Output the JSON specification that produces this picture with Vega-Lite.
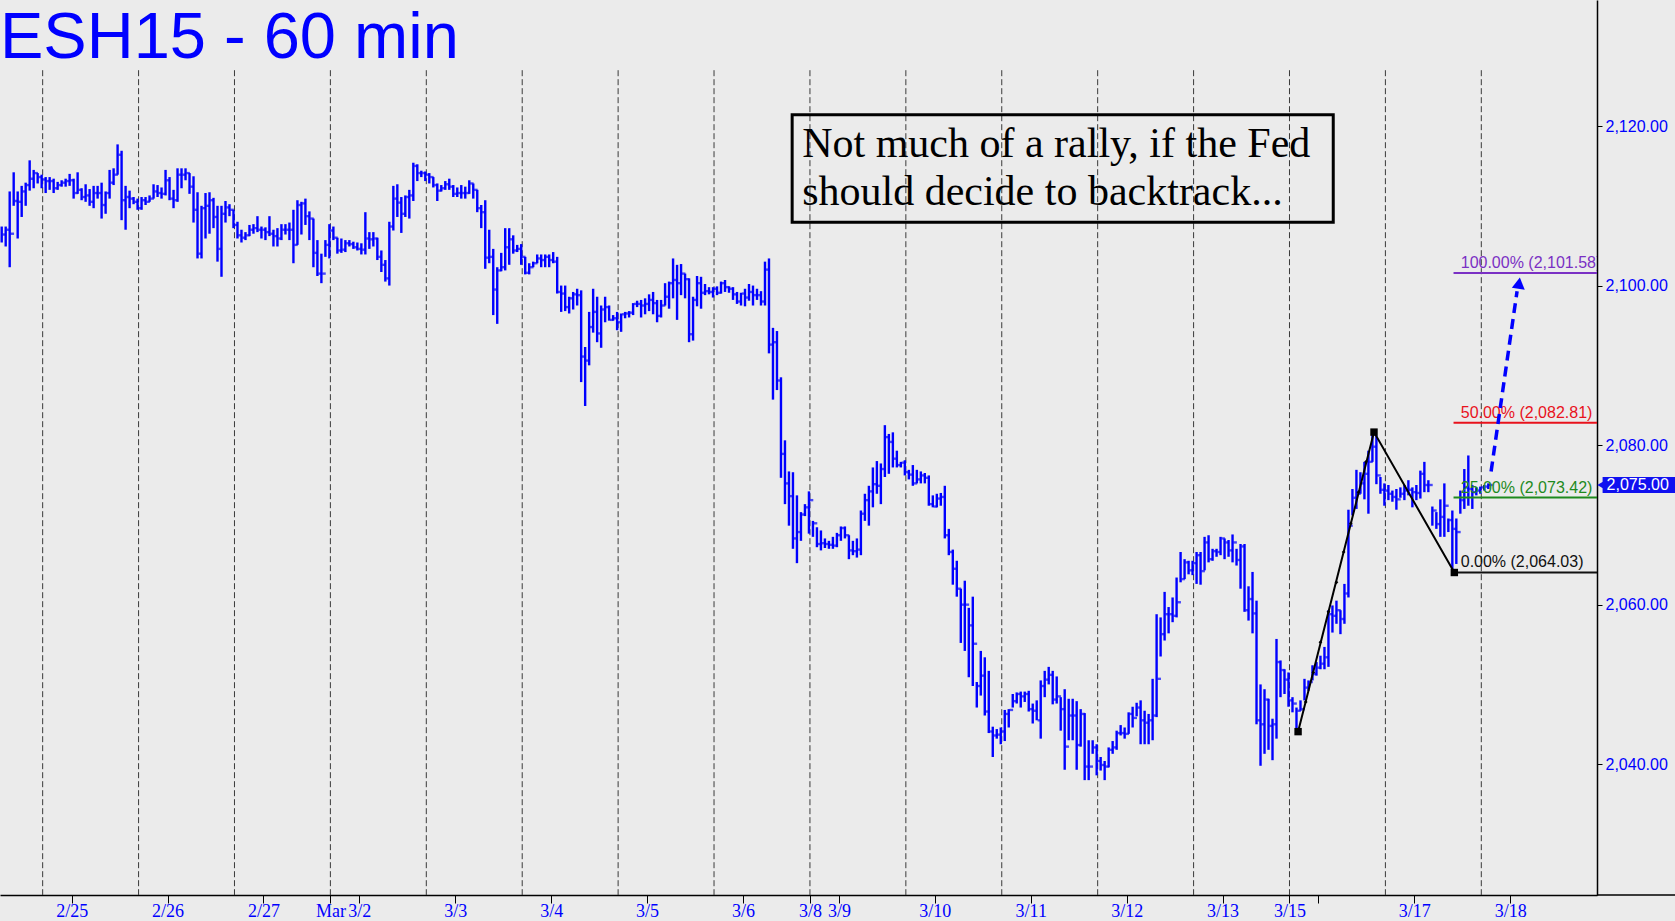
{
  "$schema": "https://vega.github.io/schema/vega-lite/v6.json",
  "width": 1597,
  "height": 895,
  "autosize": {"type": "none"},
  "padding": {"left": 0, "top": 0, "right": 78, "bottom": 26},
  "background": "#EBEBEB",
  "config": {"view": {"stroke": null}},
  "datasets": {
    "sessions": [{"s":10.25},{"s":34.25},{"s":58.25},{"s":82.25},{"s":106.25},{"s":130.25},{"s":154.25},{"s":178.25},{"s":202.25},{"s":226.25},{"s":250.25},{"s":274.25},{"s":298.25},{"s":322.25},{"s":346.25},{"s":370.25}],
    "bars": [
{"i":0,"h":2107.4,"l":2105.4,"c":2106.4},{"i":1,"h":2107.4,"l":2104.9,"c":2107.0},{"i":2,"h":2111.8,"l":2102.3,"c":2106.5},{"i":3,"h":2114.2,"l":2110.0,"c":2110.6},{"i":4,"h":2111.8,"l":2105.9,"c":2110.5},{"i":5,"h":2112.5,"l":2108.6,"c":2111.8},{"i":6,"h":2112.9,"l":2110.0,"c":2112.6},{"i":7,"h":2115.7,"l":2111.9,"c":2113.4},{"i":8,"h":2114.5,"l":2112.2,"c":2114.1},{"i":9,"h":2114.1,"l":2112.8,"c":2113.6},
{"i":10,"h":2113.9,"l":2112.2,"c":2113.3},{"i":11,"h":2113.6,"l":2111.6,"c":2113.1},{"i":12,"h":2113.6,"l":2112.0,"c":2113.1},{"i":13,"h":2113.4,"l":2111.6,"c":2112.2},{"i":14,"h":2113.0,"l":2112.0,"c":2112.6},{"i":15,"h":2113.2,"l":2112.4,"c":2112.9},{"i":16,"h":2113.4,"l":2112.4,"c":2113.1},{"i":17,"h":2114.0,"l":2112.5,"c":2113.2},{"i":18,"h":2113.4,"l":2110.9,"c":2111.6},{"i":19,"h":2114.2,"l":2111.5,"c":2112.0},
{"i":20,"h":2112.2,"l":2110.7,"c":2111.1},{"i":21,"h":2112.7,"l":2110.5,"c":2111.3},{"i":22,"h":2112.1,"l":2110.0,"c":2110.5},{"i":23,"h":2112.5,"l":2109.7,"c":2111.6},{"i":24,"h":2112.5,"l":2110.9,"c":2111.6},{"i":25,"h":2112.9,"l":2108.4,"c":2110.1},{"i":26,"h":2111.8,"l":2109.0,"c":2111.6},{"i":27,"h":2114.5,"l":2110.9,"c":2112.9},{"i":28,"h":2114.7,"l":2112.6,"c":2113.9},{"i":29,"h":2117.7,"l":2113.9,"c":2116.4},
{"i":30,"h":2116.9,"l":2108.2,"c":2110.7},{"i":31,"h":2112.5,"l":2107.0,"c":2111.1},{"i":32,"h":2111.9,"l":2109.7,"c":2110.9},{"i":33,"h":2111.1,"l":2110.2,"c":2110.5},{"i":34,"h":2110.9,"l":2109.5,"c":2109.7},{"i":35,"h":2111.1,"l":2109.5,"c":2110.7},{"i":36,"h":2111.1,"l":2110.1,"c":2110.5},{"i":37,"h":2111.3,"l":2110.5,"c":2110.9},{"i":38,"h":2112.7,"l":2110.9,"c":2111.8},{"i":39,"h":2112.6,"l":2111.1,"c":2111.6},
{"i":40,"h":2112.3,"l":2110.9,"c":2111.5},{"i":41,"h":2114.5,"l":2111.3,"c":2113.2},{"i":42,"h":2113.6,"l":2110.7,"c":2110.9},{"i":43,"h":2112.0,"l":2109.7,"c":2110.7},{"i":44,"h":2114.7,"l":2110.5,"c":2113.9},{"i":45,"h":2114.7,"l":2112.2,"c":2113.9},{"i":46,"h":2114.7,"l":2113.2,"c":2114.1},{"i":47,"h":2114.1,"l":2111.5,"c":2112.4},{"i":48,"h":2113.7,"l":2107.9,"c":2109.5},{"i":49,"h":2111.7,"l":2103.4,"c":2104.0},
{"i":50,"h":2110.0,"l":2103.4,"c":2109.7},{"i":51,"h":2111.6,"l":2105.9,"c":2110.0},{"i":52,"h":2111.7,"l":2106.5,"c":2110.7},{"i":53,"h":2111.0,"l":2107.2,"c":2108.6},{"i":54,"h":2110.0,"l":2103.0,"c":2104.6},{"i":55,"h":2110.0,"l":2101.1,"c":2109.0},{"i":56,"h":2110.6,"l":2107.9,"c":2109.8},{"i":57,"h":2110.2,"l":2108.7,"c":2109.5},{"i":58,"h":2109.5,"l":2107.2,"c":2107.6},{"i":59,"h":2108.0,"l":2105.9,"c":2106.3},
{"i":60,"h":2107.0,"l":2105.4,"c":2106.0},{"i":61,"h":2106.7,"l":2105.7,"c":2106.3},{"i":62,"h":2107.6,"l":2106.2,"c":2107.0},{"i":63,"h":2107.7,"l":2106.5,"c":2107.2},{"i":64,"h":2108.7,"l":2106.7,"c":2107.0},{"i":65,"h":2107.4,"l":2105.9,"c":2107.0},{"i":66,"h":2107.3,"l":2105.7,"c":2106.7},{"i":67,"h":2108.7,"l":2106.2,"c":2106.5},{"i":68,"h":2107.0,"l":2104.9,"c":2106.2},{"i":69,"h":2107.2,"l":2104.9,"c":2105.9},
{"i":70,"h":2107.7,"l":2105.7,"c":2107.0},{"i":71,"h":2107.7,"l":2106.4,"c":2107.0},{"i":72,"h":2107.9,"l":2105.7,"c":2107.0},{"i":73,"h":2109.5,"l":2102.8,"c":2105.1},{"i":74,"h":2110.7,"l":2105.1,"c":2110.1},{"i":75,"h":2110.5,"l":2106.4,"c":2110.3},{"i":76,"h":2110.9,"l":2107.6,"c":2108.7},{"i":77,"h":2109.3,"l":2105.7,"c":2108.4},{"i":78,"h":2108.4,"l":2102.3,"c":2104.1},{"i":79,"h":2105.7,"l":2101.2,"c":2101.5},
{"i":80,"h":2104.0,"l":2100.3,"c":2101.5},{"i":81,"h":2105.7,"l":2103.6,"c":2105.1},{"i":82,"h":2107.7,"l":2103.4,"c":2106.9},{"i":83,"h":2107.4,"l":2105.7,"c":2106.0},{"i":84,"h":2106.0,"l":2104.0,"c":2104.4},{"i":85,"h":2105.9,"l":2104.1,"c":2104.5},{"i":86,"h":2105.7,"l":2104.2,"c":2105.3},{"i":87,"h":2105.7,"l":2104.9,"c":2105.2},{"i":88,"h":2105.5,"l":2104.6,"c":2104.8},{"i":89,"h":2105.4,"l":2104.4,"c":2104.6},
{"i":90,"h":2105.3,"l":2103.9,"c":2104.5},{"i":91,"h":2109.2,"l":2103.9,"c":2105.9},{"i":92,"h":2106.7,"l":2104.6,"c":2105.8},{"i":93,"h":2106.7,"l":2104.9,"c":2105.9},{"i":94,"h":2106.0,"l":2103.2,"c":2103.6},{"i":95,"h":2104.4,"l":2101.7,"c":2102.6},{"i":96,"h":2103.2,"l":2100.5,"c":2100.9},{"i":97,"h":2108.0,"l":2100.0,"c":2107.4},{"i":98,"h":2112.5,"l":2106.9,"c":2110.9},{"i":99,"h":2112.7,"l":2108.6,"c":2110.4},
{"i":100,"h":2111.1,"l":2106.6,"c":2109.0},{"i":101,"h":2111.3,"l":2108.6,"c":2111.1},{"i":102,"h":2112.0,"l":2108.4,"c":2111.3},{"i":103,"h":2115.4,"l":2110.6,"c":2115.0},{"i":104,"h":2115.2,"l":2113.1,"c":2114.1},{"i":105,"h":2114.4,"l":2113.6,"c":2114.1},{"i":106,"h":2114.3,"l":2113.1,"c":2113.9},{"i":107,"h":2114.1,"l":2112.8,"c":2113.6},{"i":108,"h":2113.6,"l":2112.3,"c":2112.6},{"i":109,"h":2112.8,"l":2110.6,"c":2111.9},
{"i":110,"h":2112.6,"l":2111.8,"c":2112.2},{"i":111,"h":2113.1,"l":2112.0,"c":2112.7},{"i":112,"h":2113.4,"l":2112.0,"c":2112.4},{"i":113,"h":2112.6,"l":2111.1,"c":2111.5},{"i":114,"h":2112.3,"l":2111.1,"c":2111.6},{"i":115,"h":2112.6,"l":2110.9,"c":2111.6},{"i":116,"h":2112.4,"l":2110.9,"c":2111.6},{"i":117,"h":2113.2,"l":2111.5,"c":2112.8},{"i":118,"h":2112.8,"l":2110.9,"c":2112.0},{"i":119,"h":2112.0,"l":2109.2,"c":2109.7},
{"i":120,"h":2110.1,"l":2107.2,"c":2109.2},{"i":121,"h":2110.7,"l":2102.1,"c":2103.5},{"i":122,"h":2107.0,"l":2102.8,"c":2103.6},{"i":123,"h":2104.6,"l":2096.3,"c":2099.5},{"i":124,"h":2102.3,"l":2095.2,"c":2101.9},{"i":125,"h":2104.1,"l":2101.8,"c":2102.3},{"i":126,"h":2107.2,"l":2101.9,"c":2104.8},{"i":127,"h":2107.2,"l":2102.6,"c":2105.8},{"i":128,"h":2106.3,"l":2104.0,"c":2104.4},{"i":129,"h":2105.1,"l":2104.2,"c":2104.6},
{"i":130,"h":2105.2,"l":2102.6,"c":2103.6},{"i":131,"h":2103.6,"l":2101.4,"c":2101.6},{"i":132,"h":2102.8,"l":2101.4,"c":2102.3},{"i":133,"h":2103.0,"l":2102.3,"c":2102.8},{"i":134,"h":2103.9,"l":2102.8,"c":2103.4},{"i":135,"h":2103.9,"l":2102.3,"c":2103.2},{"i":136,"h":2103.9,"l":2102.3,"c":2103.6},{"i":137,"h":2103.9,"l":2102.3,"c":2103.2},{"i":138,"h":2104.2,"l":2102.8,"c":2103.0},{"i":139,"h":2103.6,"l":2099.0,"c":2099.2},
{"i":140,"h":2100.0,"l":2096.7,"c":2099.0},{"i":141,"h":2100.0,"l":2096.8,"c":2097.3},{"i":142,"h":2098.6,"l":2096.5,"c":2098.4},{"i":143,"h":2099.2,"l":2097.0,"c":2098.9},{"i":144,"h":2099.6,"l":2097.5,"c":2098.8},{"i":145,"h":2099.4,"l":2087.9,"c":2091.1},{"i":146,"h":2092.3,"l":2084.9,"c":2090.6},{"i":147,"h":2096.7,"l":2090.0,"c":2094.8},{"i":148,"h":2099.6,"l":2094.1,"c":2096.7},{"i":149,"h":2098.6,"l":2092.9,"c":2094.0},
{"i":150,"h":2097.5,"l":2092.2,"c":2097.0},{"i":151,"h":2098.6,"l":2095.4,"c":2097.3},{"i":152,"h":2097.5,"l":2095.6,"c":2095.7},{"i":153,"h":2096.3,"l":2095.6,"c":2095.9},{"i":154,"h":2096.7,"l":2094.4,"c":2095.4},{"i":155,"h":2096.5,"l":2094.2,"c":2096.4},{"i":156,"h":2096.7,"l":2095.9,"c":2096.5},{"i":157,"h":2096.8,"l":2096.0,"c":2096.6},{"i":158,"h":2097.8,"l":2096.3,"c":2097.7},{"i":159,"h":2098.1,"l":2097.3,"c":2097.7},
{"i":160,"h":2098.2,"l":2096.0,"c":2097.5},{"i":161,"h":2098.4,"l":2096.4,"c":2097.7},{"i":162,"h":2098.9,"l":2096.8,"c":2098.2},{"i":163,"h":2099.2,"l":2096.4,"c":2097.8},{"i":164,"h":2098.2,"l":2095.4,"c":2096.2},{"i":165,"h":2098.2,"l":2096.0,"c":2097.5},{"i":166,"h":2100.3,"l":2097.5,"c":2098.6},{"i":167,"h":2100.5,"l":2097.1,"c":2100.3},{"i":168,"h":2103.4,"l":2098.4,"c":2100.7},{"i":169,"h":2102.6,"l":2095.7,"c":2100.3},
{"i":170,"h":2102.7,"l":2098.8,"c":2101.5},{"i":171,"h":2101.5,"l":2098.4,"c":2100.8},{"i":172,"h":2100.9,"l":2092.9,"c":2093.9},{"i":173,"h":2098.6,"l":2093.1,"c":2098.2},{"i":174,"h":2101.2,"l":2097.4,"c":2100.3},{"i":175,"h":2101.1,"l":2097.1,"c":2099.1},{"i":176,"h":2100.2,"l":2098.8,"c":2099.3},{"i":177,"h":2099.8,"l":2098.9,"c":2099.2},{"i":178,"h":2099.8,"l":2098.5,"c":2099.6},{"i":179,"h":2099.9,"l":2098.8,"c":2099.1},
{"i":180,"h":2100.5,"l":2099.0,"c":2100.3},{"i":181,"h":2100.7,"l":2099.2,"c":2099.8},{"i":182,"h":2099.9,"l":2099.1,"c":2099.6},{"i":183,"h":2099.8,"l":2098.2,"c":2098.9},{"i":184,"h":2099.2,"l":2097.7,"c":2098.0},{"i":185,"h":2099.1,"l":2097.5,"c":2099.0},{"i":186,"h":2099.6,"l":2097.4,"c":2098.5},{"i":187,"h":2100.2,"l":2098.1,"c":2099.2},{"i":188,"h":2100.0,"l":2097.5,"c":2098.8},{"i":189,"h":2099.6,"l":2098.2,"c":2098.8},
{"i":190,"h":2099.3,"l":2097.5,"c":2098.0},{"i":191,"h":2103.0,"l":2097.5,"c":2102.0},{"i":192,"h":2103.4,"l":2091.5,"c":2092.6},{"i":193,"h":2094.7,"l":2085.7,"c":2092.9},{"i":194,"h":2094.3,"l":2086.9,"c":2088.1},{"i":195,"h":2088.5,"l":2075.9,"c":2078.9},{"i":196,"h":2080.6,"l":2072.6,"c":2075.2},{"i":197,"h":2076.7,"l":2069.9,"c":2073.6},{"i":198,"h":2076.6,"l":2067.0,"c":2068.3},{"i":199,"h":2073.7,"l":2065.2,"c":2069.1},
{"i":200,"h":2071.6,"l":2068.0,"c":2071.3},{"i":201,"h":2072.6,"l":2071.1,"c":2072.2},{"i":202,"h":2074.2,"l":2068.9,"c":2073.1},{"i":203,"h":2070.5,"l":2068.5,"c":2070.2},{"i":204,"h":2069.7,"l":2067.2,"c":2067.6},{"i":205,"h":2069.3,"l":2066.8,"c":2067.7},{"i":206,"h":2068.3,"l":2067.1,"c":2067.6},{"i":207,"h":2068.0,"l":2067.0,"c":2067.5},{"i":208,"h":2068.5,"l":2067.0,"c":2067.4},{"i":209,"h":2069.0,"l":2067.2,"c":2068.7},
{"i":210,"h":2069.8,"l":2068.0,"c":2069.6},{"i":211,"h":2069.8,"l":2068.3,"c":2068.7},{"i":212,"h":2068.7,"l":2065.7,"c":2066.8},{"i":213,"h":2068.0,"l":2066.2,"c":2066.7},{"i":214,"h":2068.3,"l":2065.9,"c":2066.9},{"i":215,"h":2071.8,"l":2066.2,"c":2071.4},{"i":216,"h":2073.9,"l":2070.5,"c":2073.1},{"i":217,"h":2074.9,"l":2069.9,"c":2074.2},{"i":218,"h":2077.2,"l":2072.2,"c":2075.1},{"i":219,"h":2078.0,"l":2073.9,"c":2074.9},
{"i":220,"h":2077.7,"l":2072.6,"c":2077.0},{"i":221,"h":2082.5,"l":2076.0,"c":2081.0},{"i":222,"h":2081.4,"l":2076.4,"c":2080.4},{"i":223,"h":2081.6,"l":2077.2,"c":2078.3},{"i":224,"h":2079.3,"l":2077.2,"c":2077.5},{"i":225,"h":2077.9,"l":2077.2,"c":2077.8},{"i":226,"h":2078.1,"l":2076.2,"c":2076.6},{"i":227,"h":2076.9,"l":2075.7,"c":2076.3},{"i":228,"h":2077.5,"l":2074.9,"c":2075.2},{"i":229,"h":2076.9,"l":2075.2,"c":2075.7},
{"i":230,"h":2076.7,"l":2075.2,"c":2076.2},{"i":231,"h":2076.5,"l":2075.2,"c":2075.9},{"i":232,"h":2076.2,"l":2072.4,"c":2072.6},{"i":233,"h":2073.7,"l":2072.2,"c":2072.3},{"i":234,"h":2073.9,"l":2072.2,"c":2073.3},{"i":235,"h":2074.0,"l":2072.4,"c":2073.5},{"i":236,"h":2074.9,"l":2068.3,"c":2068.7},{"i":237,"h":2069.5,"l":2066.2,"c":2066.6},{"i":238,"h":2066.9,"l":2062.5,"c":2064.5},{"i":239,"h":2065.5,"l":2061.0,"c":2062.0},
{"i":240,"h":2062.0,"l":2055.2,"c":2060.0},{"i":241,"h":2063.0,"l":2054.2,"c":2060.0},{"i":242,"h":2059.6,"l":2050.9,"c":2057.4},{"i":243,"h":2061.0,"l":2049.8,"c":2055.1},{"i":244,"h":2050.3,"l":2047.1,"c":2049.8},{"i":245,"h":2054.2,"l":2048.6,"c":2051.1},{"i":246,"h":2053.4,"l":2046.1,"c":2046.6},{"i":247,"h":2051.7,"l":2043.9,"c":2044.1},{"i":248,"h":2044.7,"l":2040.9,"c":2043.6},{"i":249,"h":2044.4,"l":2043.2,"c":2043.7},
{"i":250,"h":2044.6,"l":2042.5,"c":2044.1},{"i":251,"h":2046.8,"l":2042.9,"c":2046.3},{"i":252,"h":2046.9,"l":2044.6,"c":2046.8},{"i":253,"h":2048.8,"l":2047.1,"c":2047.9},{"i":254,"h":2049.0,"l":2047.6,"c":2048.8},{"i":255,"h":2049.1,"l":2047.1,"c":2048.5},{"i":256,"h":2049.1,"l":2047.8,"c":2048.8},{"i":257,"h":2049.2,"l":2046.6,"c":2046.9},{"i":258,"h":2047.6,"l":2045.1,"c":2046.7},{"i":259,"h":2048.0,"l":2045.5,"c":2045.5},
{"i":260,"h":2050.5,"l":2043.2,"c":2049.8},{"i":261,"h":2051.7,"l":2048.4,"c":2050.6},{"i":262,"h":2052.2,"l":2050.0,"c":2051.2},{"i":263,"h":2051.7,"l":2047.5,"c":2048.1},{"i":264,"h":2051.0,"l":2047.6,"c":2048.5},{"i":265,"h":2048.4,"l":2044.2,"c":2046.9},{"i":266,"h":2049.4,"l":2039.3,"c":2042.2},{"i":267,"h":2048.2,"l":2043.0,"c":2046.1},{"i":268,"h":2048.2,"l":2043.0,"c":2046.1},{"i":269,"h":2047.9,"l":2039.3,"c":2042.4},
{"i":270,"h":2046.9,"l":2042.2,"c":2046.3},{"i":271,"h":2046.4,"l":2038.0,"c":2039.7},{"i":272,"h":2043.0,"l":2038.0,"c":2039.7},{"i":273,"h":2043.0,"l":2041.3,"c":2042.1},{"i":274,"h":2042.5,"l":2038.6,"c":2040.4},{"i":275,"h":2040.9,"l":2039.2,"c":2039.9},{"i":276,"h":2040.4,"l":2038.0,"c":2039.7},{"i":277,"h":2042.1,"l":2039.6,"c":2041.8},{"i":278,"h":2042.9,"l":2041.3,"c":2042.1},{"i":279,"h":2044.2,"l":2041.8,"c":2043.9},
{"i":280,"h":2044.9,"l":2043.6,"c":2043.9},{"i":281,"h":2044.6,"l":2043.2,"c":2043.8},{"i":282,"h":2046.5,"l":2043.8,"c":2046.3},{"i":283,"h":2047.2,"l":2044.6,"c":2045.8},{"i":284,"h":2047.7,"l":2046.0,"c":2047.1},{"i":285,"h":2048.0,"l":2042.5,"c":2045.5},{"i":286,"h":2046.7,"l":2042.5,"c":2045.2},{"i":287,"h":2046.3,"l":2042.5,"c":2045.5},{"i":288,"h":2050.7,"l":2043.0,"c":2046.1},{"i":289,"h":2058.8,"l":2045.9,"c":2050.7},
{"i":290,"h":2058.4,"l":2053.5,"c":2056.3},{"i":291,"h":2061.6,"l":2055.5,"c":2058.8},{"i":292,"h":2059.7,"l":2056.4,"c":2058.8},{"i":293,"h":2060.9,"l":2057.8,"c":2058.6},{"i":294,"h":2063.4,"l":2058.4,"c":2060.3},{"i":295,"h":2066.6,"l":2062.8,"c":2063.2},{"i":296,"h":2065.7,"l":2063.2,"c":2065.3},{"i":297,"h":2065.5,"l":2063.8,"c":2064.3},{"i":298,"h":2065.5,"l":2063.7,"c":2065.2},{"i":299,"h":2066.6,"l":2062.6,"c":2066.2},
{"i":300,"h":2066.6,"l":2062.5,"c":2064.2},{"i":301,"h":2068.5,"l":2064.3,"c":2067.8},{"i":302,"h":2068.7,"l":2065.3,"c":2065.7},{"i":303,"h":2067.0,"l":2065.5,"c":2066.7},{"i":304,"h":2067.0,"l":2066.0,"c":2066.6},{"i":305,"h":2068.5,"l":2066.2,"c":2068.3},{"i":306,"h":2068.3,"l":2065.7,"c":2067.8},{"i":307,"h":2068.1,"l":2066.0,"c":2066.8},{"i":308,"h":2068.8,"l":2065.3,"c":2067.8},{"i":309,"h":2067.0,"l":2064.9,"c":2065.6},
{"i":310,"h":2067.6,"l":2062.0,"c":2067.3},{"i":311,"h":2067.6,"l":2059.1,"c":2059.3},{"i":312,"h":2062.3,"l":2058.0,"c":2060.7},{"i":313,"h":2064.1,"l":2056.4,"c":2058.9},{"i":314,"h":2060.5,"l":2045.0,"c":2045.5},{"i":315,"h":2050.0,"l":2039.8,"c":2045.0},{"i":316,"h":2049.4,"l":2041.3,"c":2048.1},{"i":317,"h":2048.2,"l":2041.8,"c":2044.8},{"i":318,"h":2045.7,"l":2040.5,"c":2045.0},{"i":319,"h":2055.7,"l":2043.2,"c":2052.8},
{"i":320,"h":2053.0,"l":2048.4,"c":2051.8},{"i":321,"h":2051.9,"l":2048.8,"c":2050.6},{"i":322,"h":2051.5,"l":2047.2,"c":2048.0},{"i":323,"h":2048.4,"l":2046.5,"c":2047.6},{"i":324,"h":2047.1,"l":2044.0,"c":2046.7},{"i":325,"h":2048.0,"l":2046.7,"c":2046.9},{"i":326,"h":2050.7,"l":2048.0,"c":2049.6},{"i":327,"h":2050.5,"l":2049.2,"c":2050.3},{"i":328,"h":2052.4,"l":2050.5,"c":2051.3},{"i":329,"h":2052.8,"l":2051.1,"c":2052.1},
{"i":330,"h":2053.6,"l":2051.9,"c":2052.6},{"i":331,"h":2054.7,"l":2051.9,"c":2053.4},{"i":332,"h":2059.3,"l":2052.2,"c":2058.8},{"i":333,"h":2059.9,"l":2056.5,"c":2058.6},{"i":334,"h":2060.5,"l":2057.6,"c":2059.3},{"i":335,"h":2059.3,"l":2056.3,"c":2058.2},{"i":336,"h":2062.6,"l":2057.6,"c":2061.4},{"i":337,"h":2071.9,"l":2060.9,"c":2069.9},{"i":338,"h":2074.5,"l":2071.2,"c":2073.4},{"i":339,"h":2076.9,"l":2072.0,"c":2073.9},
{"i":340,"h":2076.6,"l":2073.9,"c":2075.2},{"i":341,"h":2077.9,"l":2073.2,"c":2076.4},{"i":342,"h":2079.3,"l":2071.4,"c":2077.9},{"i":343,"h":2081.6,"l":2077.9,"c":2079.8},{"i":344,"h":2081.2,"l":2075.1,"c":2076.2},{"i":345,"h":2076.0,"l":2073.9,"c":2074.4},{"i":346,"h":2075.2,"l":2072.4,"c":2074.3},{"i":347,"h":2075.0,"l":2073.1,"c":2073.9},{"i":348,"h":2074.3,"l":2072.9,"c":2073.5},{"i":349,"h":2074.5,"l":2071.9,"c":2073.2},
{"i":350,"h":2074.7,"l":2073.4,"c":2073.9},{"i":351,"h":2075.0,"l":2073.1,"c":2074.3},{"i":352,"h":2075.6,"l":2073.7,"c":2074.4},{"i":353,"h":2074.7,"l":2072.2,"c":2074.1},{"i":354,"h":2075.0,"l":2073.1,"c":2074.0},{"i":355,"h":2076.8,"l":2073.3,"c":2076.4},{"i":356,"h":2077.9,"l":2074.1,"c":2075.0},{"i":357,"h":2075.6,"l":2074.1,"c":2075.0},{"i":358,"h":2072.3,"l":2069.9,"c":2071.8},{"i":359,"h":2071.6,"l":2069.5,"c":2070.1},
{"i":360,"h":2073.2,"l":2068.5,"c":2071.0},{"i":361,"h":2075.2,"l":2068.5,"c":2072.4},{"i":362,"h":2070.8,"l":2069.1,"c":2070.6},{"i":363,"h":2071.8,"l":2064.0,"c":2069.5},{"i":364,"h":2070.8,"l":2065.1,"c":2069.1},{"i":365,"h":2074.3,"l":2071.4,"c":2073.1},{"i":366,"h":2077.0,"l":2072.0,"c":2074.7},{"i":367,"h":2078.7,"l":2072.4,"c":2074.5},{"i":368,"h":2075.0,"l":2072.0,"c":2074.1},{"i":369,"h":2074.7,"l":2073.7,"c":2074.3},
{"i":370,"h":2074.8,"l":2073.9,"c":2074.7},{"i":371,"h":2075.0,"l":2074.3,"c":2074.8},{"i":372,"h":2075.2,"l":2074.5,"c":2075.0}
    ],
    "levels": [
      {"label": "100.00% (2,101.58)", "price": 2101.58},
      {"label": "50.00% (2,082.81)", "price": 2082.81},
      {"label": "25.00% (2,073.42)", "price": 2073.42},
      {"label": "0.00% (2,064.03)", "price": 2064.03}
    ],
    "pivots": [{"i": 324.4, "p": 2044.08}, {"i": 343.4, "p": 2081.63}, {"i": 363.5, "p": 2064.03}],
    "legdots": [{"i":326.3,"p":2047.8},{"i":328.2,"p":2051.5},{"i":330.0,"p":2055.3},{"i":332.0,"p":2059.1},{"i":334.0,"p":2062.8},{"i":335.8,"p":2066.6},{"i":337.6,"p":2070.2},{"i":339.5,"p":2074.1},{"i":341.4,"p":2077.9}],
    "arrow": [{"i": 372.7, "p": 2076.7}, {"i": 379.2, "p": 2099.3}],
    "arrowhead": [{"i": 379.7, "p": 2100.3}],
    "note": [{"text": "Not much of a rally, if the Fed\nshould decide to backtrack..."}],
    "heading": [{"text": "ESH15 - 60 min"}],
    "last": [{"label": "2,075.00", "price": 2075}]
  },
  "layer": [
    {
      "data": {"name": "sessions"},
      "mark": {"type": "rule", "stroke": "#3A3A3A", "strokeWidth": 1, "strokeDash": [6, 3]},
      "encoding": {
        "x": {"field": "s", "type": "quantitative", "title": null,
              "scale": {"domain": [-0.425, 399.2], "nice": false, "zero": false},
              "axis": {"orient": "bottom", "values": [17.5, 41.5, 65.5, 82.25, 89.5, 113.5, 137.5, 161.5, 185.5, 202.25, 209.5, 233.5, 257.5, 281.5, 305.5, 322.25, 329.5, 353.5, 377.5],
                       "labelExpr": "['2/25','2/26','2/27','Mar','3/2','3/3','3/4','3/5','3/6','3/8','3/9','3/10','3/11','3/12','3/13','3/15','','3/17','3/18'][indexof([17.5,41.5,65.5,82.25,89.5,113.5,137.5,161.5,185.5,202.25,209.5,233.5,257.5,281.5,305.5,322.25,329.5,353.5,377.5], datum.value)]",
                       "grid": false, "domainColor": "#000000", "domainWidth": 1.5, "tickColor": "#000000", "tickSize": 8, "tickWidth": 1,
                       "labelColor": "#0000FF", "labelFont": "Liberation Sans Narrow", "labelFontSize": 18, "labelBaseline": "alphabetic", "labelPadding": 13,
                       "labelOverlap": false, "labelFlush": false, "labelBound": false}},
        "y": {"datum": 2127.0, "type": "quantitative"},
        "y2": {"datum": 2023.6}
      }
    },
    {
      "data": {"values": [{}]},
      "mark": {"type": "rect", "fillOpacity": 0, "stroke": "#000000", "strokeWidth": 3},
      "encoding": {
        "x": {"datum": 197.8, "type": "quantitative"},
        "x2": {"datum": 333.2},
        "y": {"datum": 2121.4, "type": "quantitative"},
        "y2": {"datum": 2107.95}
      }
    },
    {
      "data": {"name": "note"},
      "mark": {"type": "text", "font": "Liberation Serif", "fontSize": 42, "lineBreak": "\n", "lineHeight": 48, "align": "left", "baseline": "alphabetic", "color": "#000000"},
      "encoding": {
        "x": {"datum": 200.3, "type": "quantitative"},
        "y": {"datum": 2116.1, "type": "quantitative"},
        "text": {"field": "text"}
      }
    },
    {
      "data": {"name": "heading"},
      "mark": {"type": "text", "font": "Liberation Sans", "fontSize": 65, "align": "left", "baseline": "alphabetic", "color": "#0000FF", "dx": 0},
      "encoding": {
        "x": {"datum": -0.425, "type": "quantitative"},
        "y": {"datum": 2128.5, "type": "quantitative"},
        "text": {"field": "text"}
      }
    },
    {
      "data": {"name": "bars"},
      "mark": {"type": "rule", "stroke": "#0000FF", "strokeWidth": 2.4},
      "encoding": {
        "x": {"field": "i", "type": "quantitative", "title": null},
        "y": {"field": "l", "type": "quantitative", "title": null,
              "scale": {"domain": [2023.6, 2135.8], "nice": false, "zero": false},
              "axis": {"orient": "right", "values": [2040, 2060, 2080, 2100, 2120], "format": ",.2f", "grid": false,
                       "domainColor": "#000000", "domainWidth": 1.5, "tickColor": "#000000", "tickSize": 5,
                       "labelColor": "#0000FF", "labelFont": "Liberation Sans", "labelFontSize": 16, "labelPadding": 3, "labelBaseline": "middle"}},
        "y2": {"field": "h"}
      }
    },
    {
      "data": {"name": "bars"},
      "mark": {"type": "tick", "orient": "horizontal", "color": "#0000FF", "size": 3.5, "thickness": 2.4, "xOffset": 2.6},
      "encoding": {
        "x": {"field": "i", "type": "quantitative"},
        "y": {"field": "c", "type": "quantitative"}
      }
    },
    {
      "data": {"name": "levels"},
      "mark": {"type": "rule", "strokeWidth": 2},
      "encoding": {
        "x": {"datum": 363.3, "type": "quantitative"},
        "x2": {"datum": 399.2},
        "y": {"field": "price", "type": "quantitative"},
        "color": {"field": "label", "type": "nominal", "legend": null,
                  "scale": {"domain": ["100.00% (2,101.58)", "50.00% (2,082.81)", "25.00% (2,073.42)", "0.00% (2,064.03)"], "range": ["#7A30C4", "#E8121C", "#1E8A1E", "#111111"]}}
      }
    },
    {
      "data": {"name": "levels"},
      "mark": {"type": "text", "font": "Liberation Sans", "fontSize": 16, "align": "left", "baseline": "alphabetic", "dy": -5, "clip": true},
      "encoding": {
        "x": {"datum": 365.1, "type": "quantitative"},
        "y": {"field": "price", "type": "quantitative"},
        "text": {"field": "label"},
        "color": {"field": "label", "type": "nominal", "legend": null}
      }
    },
    {
      "data": {"name": "pivots"},
      "mark": {"type": "line", "stroke": "#000000", "strokeWidth": 2},
      "encoding": {
        "x": {"field": "i", "type": "quantitative"},
        "y": {"field": "p", "type": "quantitative"}
      }
    },
    {
      "data": {"name": "pivots"},
      "mark": {"type": "point", "shape": "square", "filled": true, "color": "#000000", "size": 55, "opacity": 1},
      "encoding": {
        "x": {"field": "i", "type": "quantitative"},
        "y": {"field": "p", "type": "quantitative"}
      }
    },
    {
      "data": {"name": "legdots"},
      "mark": {"type": "point", "shape": "diamond", "filled": true, "color": "#000000", "size": 14, "opacity": 1},
      "encoding": {
        "x": {"field": "i", "type": "quantitative"},
        "y": {"field": "p", "type": "quantitative"}
      }
    },
    {
      "data": {"name": "arrow"},
      "mark": {"type": "line", "stroke": "#0000FF", "strokeWidth": 3.5, "strokeDash": [10, 6]},
      "encoding": {
        "x": {"field": "i", "type": "quantitative"},
        "y": {"field": "p", "type": "quantitative"}
      }
    },
    {
      "data": {"name": "arrowhead"},
      "mark": {"type": "point", "shape": "triangle-up", "filled": true, "color": "#0000FF", "size": 170, "angle": 8, "opacity": 1},
      "encoding": {
        "x": {"field": "i", "type": "quantitative"},
        "y": {"field": "p", "type": "quantitative"}
      }
    },
    {
      "data": {"values": [{}]},
      "mark": {"type": "rule", "stroke": "#000000", "strokeWidth": 1.5},
      "encoding": {
        "x": {"datum": 399.2, "type": "quantitative"},
        "x2": {"datum": 425},
        "y": {"datum": 2023.6, "type": "quantitative"}
      }
    },
    {
      "data": {"name": "last"},
      "mark": {"type": "rect", "fill": "#1010F0"},
      "encoding": {
        "x": {"datum": 400.6, "type": "quantitative"},
        "x2": {"datum": 425},
        "y": {"datum": 2074.0, "type": "quantitative"},
        "y2": {"datum": 2076.0}
      }
    },
    {
      "data": {"name": "last"},
      "mark": {"type": "point", "shape": "triangle-left", "filled": true, "color": "#1010F0", "size": 90, "opacity": 1},
      "encoding": {
        "x": {"datum": 400.3, "type": "quantitative"},
        "y": {"field": "price", "type": "quantitative"}
      }
    },
    {
      "data": {"name": "last"},
      "mark": {"type": "text", "font": "Liberation Sans", "fontSize": 16, "color": "#FFFFFF", "align": "center", "baseline": "middle"},
      "encoding": {
        "x": {"datum": 409.4, "type": "quantitative"},
        "y": {"field": "price", "type": "quantitative"},
        "text": {"field": "label"}
      }
    }
  ]
}
